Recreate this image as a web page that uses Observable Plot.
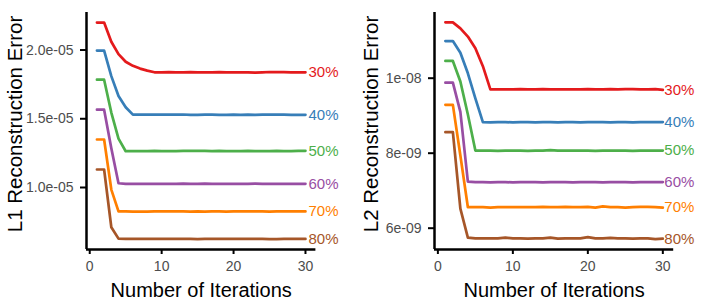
<!DOCTYPE html>
<html>
<head>
<meta charset="utf-8">
<script src="https://cdn.jsdelivr.net/npm/d3@7"></script>
<script src="https://cdn.jsdelivr.net/npm/@observablehq/plot@0.6"></script>
<style>
  html, body { margin: 0; padding: 0; background: #fff; }
  #wrap { display: flex; flex-direction: row; width: 706px; height: 302px; }
  #wrap svg { overflow: visible; }
</style>
</head>
<body>
<div id="wrap"></div>
<script>
// ---- data ----
const iterations = d3.range(1, 31);
const percents = ["30%", "40%", "50%", "60%", "70%", "80%"];
const colors = ["#E41A1C", "#377EB8", "#4DAF4A", "#984EA3", "#FF7F00", "#A65628"];

// L1 reconstruction error (units of 1e-05)
const l1_30 = [2.20,2.20,2.06,1.97,1.915,1.885,1.865,1.85,1.838,1.838,1.839,1.838,1.838,1.839,1.838,1.838,1.838,1.839,1.838,1.837,1.838,1.837,1.836,1.838,1.840,1.839,1.839,1.838,1.838,1.838];
const l1_40 = [1.996,1.996,1.81,1.665,1.584,1.53,1.530,1.531,1.530,1.531,1.530,1.530,1.531,1.528,1.529,1.530,1.530,1.529,1.528,1.530,1.529,1.530,1.529,1.530,1.530,1.531,1.530,1.529,1.529,1.529];
const l1_50 = [1.784,1.784,1.545,1.355,1.264,1.264,1.265,1.265,1.266,1.265,1.265,1.265,1.266,1.266,1.267,1.266,1.265,1.266,1.265,1.265,1.265,1.266,1.265,1.265,1.265,1.266,1.265,1.265,1.266,1.267];
const l1_60 = [1.566,1.566,1.285,1.031,1.027,1.026,1.027,1.027,1.027,1.026,1.027,1.027,1.028,1.027,1.027,1.028,1.027,1.027,1.026,1.027,1.027,1.027,1.028,1.027,1.027,1.026,1.027,1.027,1.027,1.027];
const l1_70 = [1.349,1.349,0.985,0.826,0.826,0.825,0.825,0.825,0.827,0.826,0.826,0.827,0.826,0.825,0.826,0.825,0.826,0.826,0.825,0.826,0.826,0.827,0.826,0.826,0.825,0.826,0.826,0.827,0.826,0.826];
const l1_80 = [1.131,1.131,0.711,0.628,0.626,0.626,0.626,0.626,0.627,0.626,0.626,0.627,0.626,0.627,0.625,0.626,0.626,0.627,0.626,0.626,0.627,0.626,0.627,0.626,0.625,0.625,0.626,0.626,0.626,0.626];

// L2 reconstruction error (units of 1e-09)
const l2_30 = [11.49,11.49,11.33,11.11,10.80,10.32,9.70,9.70,9.70,9.70,9.71,9.70,9.70,9.71,9.70,9.70,9.70,9.70,9.70,9.71,9.70,9.70,9.71,9.70,9.71,9.71,9.70,9.70,9.71,9.69];
const l2_40 = [10.99,10.99,10.68,10.13,9.46,8.83,8.82,8.83,8.83,8.82,8.83,8.83,8.82,8.83,8.83,8.82,8.83,8.83,8.82,8.83,8.83,8.83,8.82,8.83,8.83,8.82,8.83,8.83,8.83,8.83];
const l2_50 = [10.46,10.46,9.91,9.03,8.07,8.07,8.07,8.06,8.07,8.07,8.07,8.06,8.07,8.07,8.08,8.07,8.07,8.07,8.07,8.07,8.06,8.07,8.07,8.07,8.07,8.06,8.07,8.07,8.07,8.07];
const l2_60 = [9.88,9.88,9.10,7.24,7.23,7.23,7.22,7.23,7.23,7.22,7.23,7.23,7.23,7.22,7.23,7.23,7.23,7.22,7.23,7.23,7.23,7.22,7.23,7.23,7.23,7.22,7.23,7.23,7.23,7.23];
const l2_70 = [9.29,9.29,7.94,6.56,6.56,6.56,6.55,6.56,6.56,6.56,6.56,6.56,6.56,6.57,6.56,6.56,6.57,6.56,6.56,6.57,6.55,6.58,6.56,6.56,6.55,6.56,6.57,6.57,6.56,6.55];
const l2_80 = [8.56,8.56,6.52,5.75,5.73,5.73,5.73,5.73,5.75,5.73,5.73,5.72,5.73,5.73,5.75,5.72,5.73,5.73,5.73,5.76,5.73,5.73,5.74,5.73,5.73,5.72,5.73,5.73,5.71,5.72];

const xTicks = [0, 10, 20, 30];
const xTickLabels = ["0", "10", "20", "30"];
const l1Ticks = [1.0, 1.5, 2.0];
const l1TickLabels = ["1.0e-05", "1.5e-05", "2.0e-05"];
const l2Ticks = [6, 8, 10];
const l2TickLabels = ["6e-09", "8e-09", "1e-08"];

const xTitle = "Number of Iterations";
const l1Title = "L1 Reconstruction Error";
const l2Title = "L2 Reconstruction Error";

// ---- build ----
function tidy(seriesList) {
  const rows = [];
  seriesList.forEach((vals, i) => {
    vals.forEach((v, j) => rows.push({pct: percents[i], iter: iterations[j], value: v}));
  });
  return rows;
}

const FONT = "'Liberation Sans', Arial, sans-serif";
const TICK_GRAY = "#4d4d4d";

function panel({rows, yDomain, ticks, tickLabels, title, marginLeft, marginRight, titleX, labelDx}) {
  const W = 353, H = 302;
  const xDomain = [-0.45, 31.45];
  const ends = rows.filter(d => d.iter === 30);
  return Plot.plot({
    width: W, height: H,
    marginLeft, marginRight, marginTop: 12, marginBottom: 53,
    style: {fontFamily: FONT, background: "#fff", overflow: "visible"},
    x: {domain: xDomain},
    y: {domain: yDomain},
    color: {domain: percents, range: colors},
    marks: [
      Plot.axisX({ticks: xTicks, tickSize: 5, stroke: "#000", strokeWidth: 2, tickFormat: () => "", label: null}),
      Plot.axisY({ticks, tickSize: 6, stroke: "#000", strokeWidth: 2, tickFormat: () => "", label: null}),
      Plot.text(xTicks, {x: d => d, text: (d, i) => xTickLabels[i], frameAnchor: "bottom",
                         lineAnchor: "top", dy: 12, fontSize: 14, fill: TICK_GRAY}),
      Plot.text(ticks, {y: d => d, text: (d, i) => tickLabels[i], frameAnchor: "left",
                        textAnchor: "end", lineAnchor: "middle", dx: -13, fontSize: 14, fill: TICK_GRAY}),
      Plot.ruleY([yDomain[0]], {stroke: "#000", strokeWidth: 2.5}),
      Plot.ruleX([xDomain[0]], {stroke: "#000", strokeWidth: 2.5}),
      Plot.line(rows, {x: "iter", y: "value", z: "pct", stroke: "pct", strokeWidth: 2.7, curve: "linear"}),
      Plot.text(ends, {x: "iter", y: "value", text: "pct", fill: "pct", textAnchor: "start",
                       dx: labelDx, fontSize: 15, lineAnchor: "middle"}),
      Plot.text([xTitle], {frameAnchor: "bottom", lineAnchor: "bottom", dy: 47, fontSize: 20, fill: "#000"}),
      Plot.text([title], {frameAnchor: "left", rotate: -90, dx: titleX - marginLeft, dy: -7,
                          lineAnchor: "middle", textAnchor: "middle", fontSize: 20.5, fill: "#000"})
    ]
  });
}

const wrap = document.getElementById("wrap");
wrap.appendChild(panel({
  rows: tidy([l1_30, l1_40, l1_50, l1_60, l1_70, l1_80]),
  yDomain: [0.549, 2.273], ticks: l1Ticks, tickLabels: l1TickLabels, title: l1Title,
  marginLeft: 86, marginRight: 37.6, titleX: 15, labelDx: 3
}));
wrap.appendChild(panel({
  rows: tidy([l2_30, l2_40, l2_50, l2_60, l2_70, l2_80]),
  yDomain: [5.432, 11.752], ticks: l2Ticks, tickLabels: l2TickLabels, title: l2Title,
  marginLeft: 81, marginRight: 32.8, titleX: 18, labelDx: 1.5
}));
</script>
</body>
</html>
